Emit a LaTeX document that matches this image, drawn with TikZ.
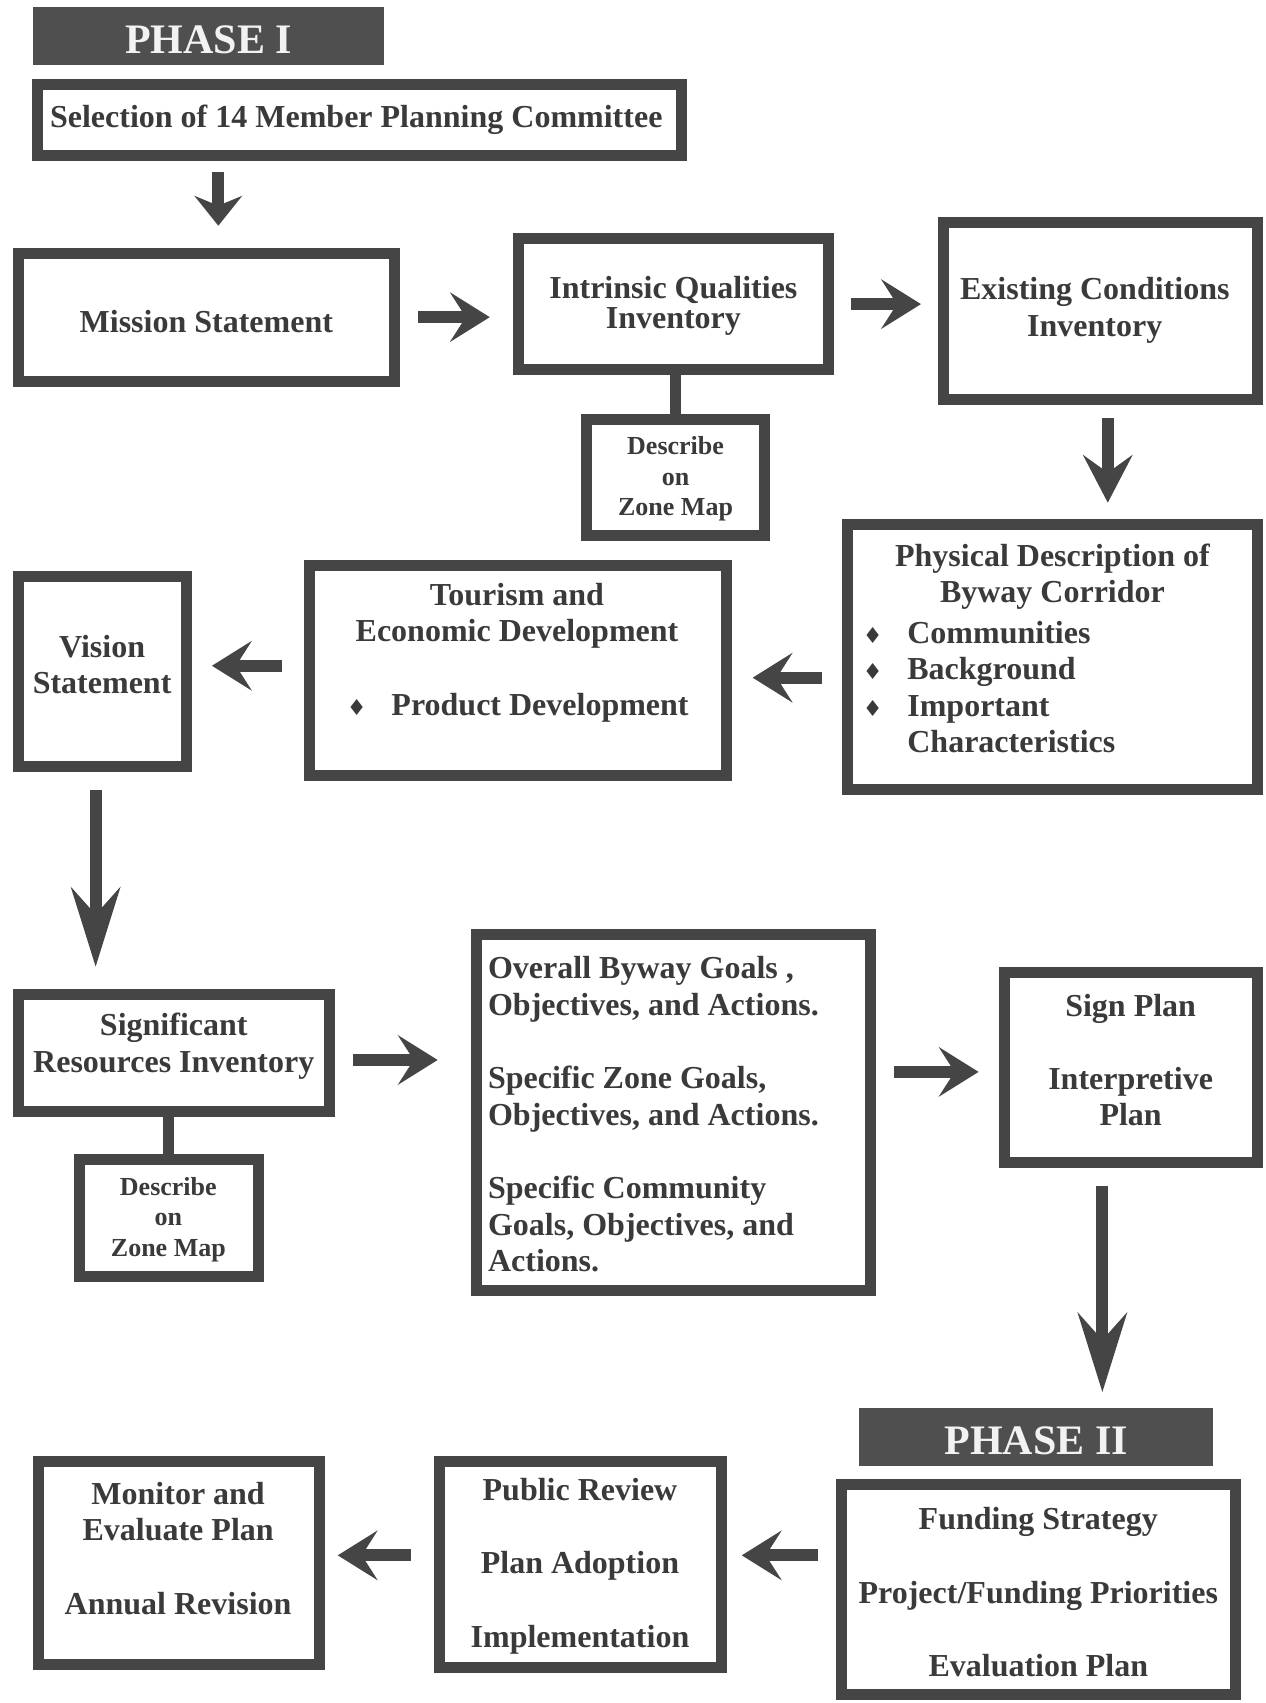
\documentclass[tikz,border=0pt]{standalone}
\usepackage{fontspec}
\setmainfont{Liberation Serif}
\newfontfamily\symfont{DejaVu Sans}
\usetikzlibrary{arrows.meta}
\definecolor{ink}{HTML}{454545}
\definecolor{txtc}{HTML}{3A3A3A}
\definecolor{phasefill}{HTML}{4F4F4F}
\newcommand{\bul}{{\symfont\fontsize{11}{11}\selectfont ♦}}
\newcommand{\bitem}[1]{\makebox[22.3pt][l]{\bul}#1}
\begin{document}
\begin{tikzpicture}[x=0.543pt,y=-0.543pt,
  box/.style={draw=ink, line width=5.5pt, fill=white, inner sep=0pt},
  phasebox/.style={fill=phasefill, inner sep=0pt},
  txt/.style={inner sep=0pt, align=center, text=txtc, font=\bfseries\fontsize{16}{18.3}\selectfont},
  smalltxt/.style={txt, font=\bfseries\fontsize{13}{15.2}\selectfont},
  phtxt/.style={inner sep=0pt, text=white!95!black, font=\bfseries\fontsize{21}{24}\selectfont},
  link/.style={draw=ink, line width=5.5pt},
  arr/.style={draw=ink, line width=6pt, -{Stealth[length=20pt,width=25pt,inset=8pt,line width=0pt]}},
  longarr/.style={draw=ink, line width=6pt, -{Stealth[length=40pt,width=25pt,inset=14pt,line width=0pt]}},
  shortarr/.style={draw=ink, line width=6pt, -{Stealth[length=15pt,width=24pt,inset=5pt,line width=0pt]}},
  midarr/.style={draw=ink, line width=6pt, -{Stealth[length=24pt,width=25pt,inset=9pt,line width=0pt]}}
]
\fill[white] (0,0) rectangle (1165,1568);
\useasboundingbox (0,0) rectangle (1165,1568);

% Phase labels
\node[phasebox, minimum width=175.9pt, minimum height=29.3pt] (ph1) at (192,33) {};
\node[phtxt] (ph1t) at (192,37) {PHASE I};
\node[phasebox, minimum width=177pt, minimum height=29.3pt] (ph2) at (954,1323) {};
\node[phtxt] (ph2t) at (954,1327) {PHASE II};

% Boxes
\node[box, minimum width=321.5pt, minimum height=35.3pt] (sel) at (331,110.5) {};
\node[box, minimum width=187.9pt, minimum height=64.1pt] (mission) at (190,292) {};
\node[box, minimum width=155.3pt, minimum height=65.2pt] (intr) at (620,280) {};
\node[box, minimum width=89.1pt, minimum height=58.1pt] (descA) at (622,439.5) {};
\node[box, minimum width=156.9pt, minimum height=88.5pt] (exist) at (1013.5,286.5) {};
\node[box, minimum width=205.3pt, minimum height=132.5pt] (phys) at (969,605) {};
\node[box, minimum width=208.5pt, minimum height=104.8pt] (tour) at (477,617.5) {};
\node[box, minimum width=84.2pt, minimum height=95pt] (vision) at (94.5,618.5) {};
\node[box, minimum width=155.3pt, minimum height=58.1pt] (signif) at (160,969.5) {};
\node[box, minimum width=89.6pt, minimum height=58.1pt] (descB) at (155.5,1121.5) {};
\node[box, minimum width=196.6pt, minimum height=178.1pt] (goals) at (620,1024) {};
\node[box, minimum width=126.5pt, minimum height=95pt] (sign) at (1041.5,982.5) {};
\node[box, minimum width=197.1pt, minimum height=104.8pt] (fund) at (956.5,1463.5) {};
\node[box, minimum width=140.6pt, minimum height=102.6pt] (public) at (534.5,1440.5) {};
\node[box, minimum width=140.6pt, minimum height=101.5pt] (monitor) at (164.5,1439.5) {};

% Texts
\node[txt] (selt) at (328,110) {Selection of 14 Member Planning Committee};
\node[txt] (missiont) at (190,296) {Mission Statement};
\node[txt, font=\bfseries\fontsize{16}{15}\selectfont] (intrt) at (620,282) {Intrinsic Qualities\\Inventory};
\node[smalltxt] (descAt) at (622,441) {Describe\\on\\Zone Map};
\node[txt] (existt) at (1008,286) {Existing Conditions\\Inventory};
\node[txt] (physt) at (969,531) {Physical Description of\\Byway Corridor};
\node[txt, align=left, anchor=west] (physl) at (794,632.5) {\bitem{Communities}\\\bitem{Background}\\\bitem{Important}\\\hspace*{22.3pt}Characteristics};
\node[txt] (tourt) at (476,567) {Tourism and\\Economic Development};
\node[txt, anchor=west] (tourl) at (319,652) {\bitem{Product Development}};
\node[txt] (visiont) at (94,612) {Vision\\Statement};
\node[txt] (signift) at (160,963) {Significant\\Resources Inventory};
\node[smalltxt] (descBt) at (155,1123) {Describe\\on\\Zone Map};
\node[txt, align=left, anchor=west] (goalst) at (449,1026) {Overall Byway Goals ,\\Objectives, and Actions.\\[18.3pt]Specific Zone Goals,\\Objectives, and Actions.\\[18.3pt]Specific Community\\Goals, Objectives, and\\Actions.};
\node[txt] (signt) at (1041,976) {Sign Plan\\[18.3pt]Interpretive\\Plan};
\node[txt] (fundt) at (956,1466) {Funding Strategy\\[18.3pt]Project/Funding Priorities\\[18.3pt]Evaluation Plan};
\node[txt] (publict) at (534,1442) {Public Review\\[18.3pt]Plan Adoption\\[18.3pt]Implementation};
\node[txt] (monitort) at (164,1425.5) {Monitor and\\Evaluate Plan\\[18.3pt]Annual Revision};

% Plain links
\draw[link] (descA.north |- intr.south) -- (descA.north);
\draw[link] (descB.north |- signif.south) -- (descB.north);

% Arrows
\draw[shortarr, shorten <=5.4pt, shorten >=10.9pt] ([xshift=5.97pt]mission.north |- sel.south) -- ([xshift=5.97pt]mission.north);
\draw[arr, shorten <=9.2pt, shorten >=11.4pt] (mission.east) -- (mission.east -| intr.west);
\draw[arr, shorten <=8.2pt, shorten >=8.7pt] (intr.east) -- (intr.east -| exist.west);
\draw[midarr, shorten <=6.5pt, shorten >=8.2pt] ([xshift=3.5pt]exist.south) -- ([xshift=3.5pt]exist.south |- phys.north);
\draw[arr, shorten <=9.8pt, shorten >=10.3pt] ([yshift=-10.3pt]phys.west) -- ([yshift=-10.3pt]phys.west -| tour.east);
\draw[arr, shorten <=10.9pt, shorten >=9.8pt] ([yshift=3pt]vision.east -| tour.west) -- ([yshift=3pt]vision.east);
\draw[longarr, shorten <=8.7pt, shorten >=11.4pt] ([xshift=-3.5pt]vision.south) -- ([xshift=-3.5pt]vision.south |- signif.north);
\draw[arr, shorten <=9.2pt, shorten >=16.8pt] ([yshift=-3.5pt]signif.east) -- ([yshift=-3.5pt]signif.east -| goals.west);
\draw[arr, shorten <=9.2pt, shorten >=10.3pt] ([yshift=-2.4pt]sign.west -| goals.east) -- ([yshift=-2.4pt]sign.west);
\draw[longarr, shorten <=9.2pt, shorten >=7.6pt] ([xshift=-14.4pt]sign.south) -- ([xshift=-14.4pt]sign.south |- ph2.north);
\draw[arr, shorten <=9.2pt, shorten >=7.6pt] ([yshift=4.6pt]public.east -| fund.west) -- ([yshift=4.6pt]public.east);
\draw[arr, shorten <=11.9pt, shorten >=6.5pt] ([yshift=4.6pt]public.west) -- ([yshift=4.6pt]public.west -| monitor.east);
\end{tikzpicture}
\end{document}
